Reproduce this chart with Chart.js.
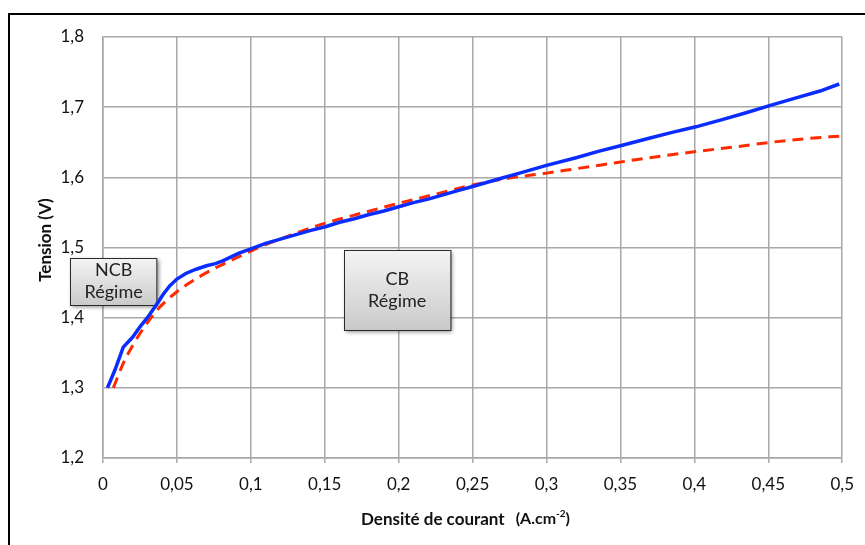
<!DOCTYPE html>
<html>
<head>
<meta charset="utf-8">
<script src="https://cdn.jsdelivr.net/npm/chart.js@4.4.0/dist/chart.umd.min.js"></script>
<style>
  body { margin: 0; background: #fff; }
  #wrap { width: 865px; height: 545px; }
</style>
</head>
<body>
<div id="wrap"><canvas id="tensionChart" width="865" height="545"></canvas></div>
<script>
// measured curve (blue) and model (red dashed), current density in A/cm2, voltage in V
const mesureX = [0.003, 0.008, 0.0137, 0.02, 0.025, 0.03, 0.036, 0.041, 0.045, 0.05, 0.056, 0.063, 0.07, 0.076, 0.081, 0.087, 0.092, 0.1, 0.11, 0.12, 0.13, 0.14, 0.151, 0.16, 0.17, 0.18, 0.19, 0.2, 0.21, 0.22, 0.23, 0.24, 0.25, 0.26, 0.27, 0.28, 0.29, 0.3, 0.32, 0.335, 0.35, 0.37, 0.385, 0.401, 0.42, 0.435, 0.452, 0.47, 0.485, 0.498];
const mesureV = [1.300, 1.325, 1.358, 1.372, 1.387, 1.400, 1.418, 1.434, 1.445, 1.455, 1.463, 1.469, 1.474, 1.477, 1.481, 1.487, 1.492, 1.498, 1.506, 1.512, 1.518, 1.524, 1.530, 1.536, 1.541, 1.547, 1.552, 1.558, 1.564, 1.569, 1.575, 1.581, 1.587, 1.593, 1.599, 1.605, 1.611, 1.617, 1.628, 1.637, 1.645, 1.656, 1.664, 1.672, 1.683, 1.692, 1.703, 1.714, 1.723, 1.733];

const modeleX = [0.007, 0.0137, 0.02, 0.029, 0.038, 0.05, 0.065, 0.079, 0.092, 0.11, 0.13, 0.151, 0.175, 0.2, 0.225, 0.25, 0.275, 0.3, 0.319, 0.338, 0.37, 0.402, 0.43, 0.452, 0.475, 0.5];
const modeleV = [1.300, 1.335, 1.360, 1.390, 1.414, 1.437, 1.458, 1.474, 1.487, 1.504, 1.520, 1.535, 1.549, 1.563, 1.576, 1.589, 1.599, 1.606, 1.612, 1.618, 1.628, 1.637, 1.644, 1.650, 1.655, 1.659];

// text boxes in data units
const regimes = [
  { lines: ["NCB", "Régime"], x1: -0.022, x2: 0.0364, v1: 1.485, v2: 1.418 },
  { lines: ["CB", "Régime"], x1: 0.163, x2: 0.235, v1: 1.4965, v2: 1.3825 }
];

const fontName = "Lato, 'Open Sans', sans-serif";
const virgule = v => String(Math.round(v * 100) / 100).replace(".", ",");

function toPoints(xs, ys) {
  return xs.map((x, i) => ({ x: x, y: ys[i] }));
}

const decor = {
  id: "decor",
  beforeDatasetsDraw(chart) {
    const ctx = chart.ctx, sx = chart.scales.x, sy = chart.scales.y;
    regimes.forEach(r => {
      const l = sx.getPixelForValue(r.x1), rgt = sx.getPixelForValue(r.x2);
      const t = sy.getPixelForValue(r.v1), b = sy.getPixelForValue(r.v2);
      ctx.save();
      ctx.shadowColor = "rgba(0,0,0,0.45)";
      ctx.shadowBlur = 4;
      ctx.shadowOffsetX = 2;
      ctx.shadowOffsetY = 2;
      const g = ctx.createLinearGradient(0, t, 0, b);
      g.addColorStop(0, "#f4f4f4");
      g.addColorStop(1, "#cacaca");
      ctx.fillStyle = g;
      ctx.fillRect(l, t, rgt - l, b - t);
      ctx.restore();
      ctx.save();
      ctx.strokeStyle = "#2a2a2a";
      ctx.lineWidth = 1;
      ctx.strokeRect(Math.round(l) + 0.5, Math.round(t) + 0.5, rgt - l, b - t);
      ctx.fillStyle = "#222";
      ctx.font = "18px " + fontName;
      ctx.textAlign = "center";
      ctx.textBaseline = "middle";
      const cx = (l + rgt) / 2, cy = (t + b) / 2;
      ctx.fillText(r.lines[0], cx, cy - 11);
      ctx.fillText(r.lines[1], cx, cy + 11);
      ctx.restore();
    });
  },
  afterDraw(chart) {
    const ctx = chart.ctx;
    ctx.save();
    // outer frame (left and top)
    ctx.strokeStyle = "#000";
    ctx.lineWidth = 2;
    ctx.beginPath();
    ctx.moveTo(9, 545);
    ctx.lineTo(9, 14);
    ctx.lineTo(865, 14);
    ctx.stroke();

    ctx.fillStyle = "#111";
    // y title
    ctx.save();
    ctx.translate(46, 240);
    ctx.rotate(-Math.PI / 2);
    ctx.font = "bold 17px " + fontName;
    ctx.textAlign = "center";
    ctx.textBaseline = "middle";
    ctx.fillText("Tension (V)", 0, 0);
    ctx.restore();

    // x title with superscript
    ctx.textBaseline = "alphabetic";
    ctx.textAlign = "left";
    let x = 361;
    const base = 525;
    ctx.font = "bold 17px " + fontName;
    ctx.fillText("Densité de courant", x, base);
    x += ctx.measureText("Densité de courant").width + 11;
    ctx.font = "bold 16px " + fontName;
    ctx.fillText("(A.cm", x, base - 1);
    x += ctx.measureText("(A.cm").width;
    ctx.font = "bold 10px " + fontName;
    ctx.fillText("-2", x, base - 8);
    x += ctx.measureText("-2").width;
    ctx.font = "bold 16px " + fontName;
    ctx.fillText(")", x, base - 1);
    ctx.restore();
  }
};

new Chart(document.getElementById("tensionChart").getContext("2d"), {
  type: "line",
  data: {
    datasets: [
      {
        label: "Mesure",
        data: toPoints(mesureX, mesureV),
        borderColor: "#0a2cff",
        borderWidth: 3.5,
        pointRadius: 0,
        tension: 0,
        fill: false
      },
      {
        label: "Modèle",
        data: toPoints(modeleX, modeleV),
        borderColor: "#ff2a00",
        borderWidth: 3,
        borderDash: [11, 7],
        pointRadius: 0,
        cubicInterpolationMode: "monotone",
        fill: false
      }
    ]
  },
  options: {
    responsive: false,
    animation: false,
    layout: { padding: { top: 37, right: 20, left: 0, bottom: 0 } },
    plugins: { legend: { display: false }, tooltip: { enabled: false } },
    scales: {
      x: {
        type: "linear",
        min: 0,
        max: 0.5,
        afterFit(s) { s.height = 87; },
        ticks: {
          stepSize: 0.05,
          color: "#111",
          font: { family: fontName, size: 17 },
          padding: 11,
          maxRotation: 0,
          callback: v => virgule(v)
        },
        grid: { color: "#a8a8a8", lineWidth: 1.5, tickLength: 5, drawTicks: true },
        border: { color: "#a8a8a8", width: 1.5 }
      },
      y: {
        min: 1.2,
        max: 1.8,
        afterFit(s) { s.width = 103; },
        ticks: {
          stepSize: 0.1,
          color: "#111",
          font: { family: fontName, size: 17 },
          padding: 19,
          callback: v => virgule(v)
        },
        grid: { color: "#a8a8a8", lineWidth: 1.5, drawTicks: false },
        border: { color: "#a8a8a8", width: 1.5 }
      }
    }
  },
  plugins: [decor]
});
</script>
</body>
</html>
